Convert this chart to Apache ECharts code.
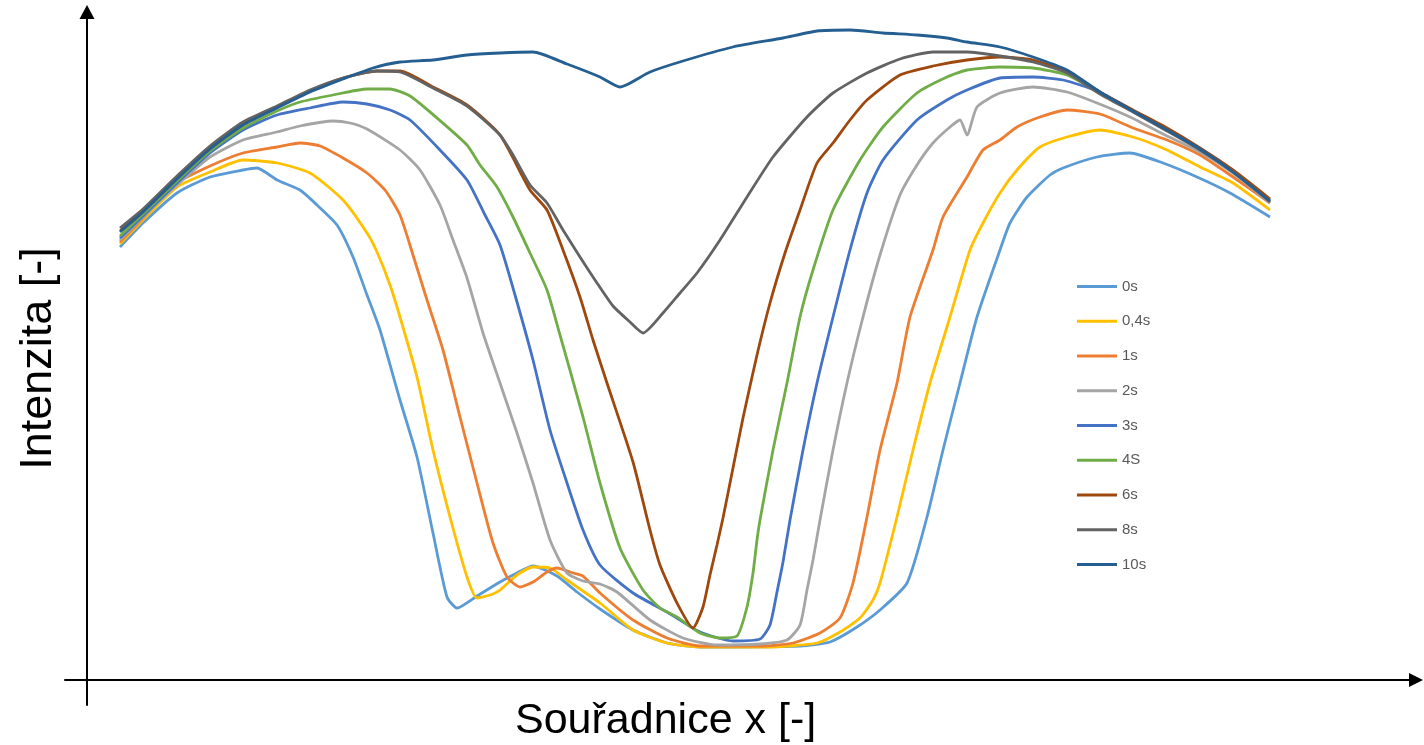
<!DOCTYPE html>
<html>
<head>
<meta charset="utf-8">
<script src="https://cdn.jsdelivr.net/npm/echarts@6/dist/echarts.min.js"></script>
<style>
html,body{margin:0;padding:0;background:#fff;}
#chart{width:1424px;height:745px;}
</style>
</head>
<body>
<div id="chart"></div>
<script>
// Series names (legend order)
const seriesNames = ['0s', '0,4s', '1s', '2s', '3s', '4S', '6s', '8s', '10s'];
const seriesColors = ['#5B9BD5', '#FFC000', '#ED7D31', '#A5A5A5', '#4472C4', '#70AD47', '#9E480E', '#636363', '#255E91'];

// [x, intensity] pairs, arbitrary units
const s0s = [[33,433],[56,457],[90,487],[123,503],[156,510],[170,512],[190,500],[213,490],[230,475],[250,455],[266,423],[280,385],[293,350],[313,280],[330,223],[346,147],[360,83],[370,72],[390,84],[413,98],[430,107],[446,114],[470,104],[490,88],[513,71],[546,50],[580,37],[613,33],[713,34],[743,38],[770,53],[793,70],[820,97],[840,163],[856,230],[873,297],[890,363],[913,430],[923,457],[940,483],[963,505],[976,512],[1010,523],[1043,527],[1076,517],[1110,503],[1143,487],[1183,463]];
const s04s = [[33,436],[56,460],[90,493],[123,508],[156,520],[190,517],[223,507],[256,480],[280,447],[290,428],[303,395],[313,363],[330,303],[346,230],[363,163],[380,103],[390,82],[403,85],[413,90],[430,105],[446,113],[463,112],[480,100],[513,77],[546,50],[580,37],[613,33],[680,33],[730,37],[753,48],[773,62],[786,80],[793,97],[810,163],[826,230],[843,297],[863,363],[883,430],[896,457],[913,487],[930,510],[953,533],[980,543],[1013,550],[1046,543],[1080,530],[1113,513],[1146,497],[1183,470]];
const s1s = [[33,438],[56,462],[90,497],[123,514],[156,527],[190,533],[213,537],[233,534],[256,522],[280,507],[298,490],[313,465],[326,425],[340,380],[356,330],[373,263],[390,197],[406,137],[420,103],[433,93],[446,98],[460,108],[470,112],[486,107],[496,104],[513,87],[546,60],[580,42],[613,34],[673,34],[706,37],[733,47],[753,62],[766,97],[780,163],[793,230],[810,297],[823,363],[846,430],[856,463],[880,503],[896,530],[913,540],[930,553],[953,563],[980,570],[1013,566],[1046,552],[1080,540],[1113,525],[1146,503],[1183,477]];
const s2s = [[33,440],[56,463],[90,495],[123,523],[156,540],[190,548],[213,554],[246,559],[263,557],[280,551],[313,530],[333,510],[353,475],[366,440],[380,402],[396,347],[413,297],[430,247],[446,197],[463,140],[480,107],[496,99],[513,96],[530,88],[563,60],[596,42],[630,35],[673,36],[700,40],[713,55],[720,90],[726,120],[733,160],[746,230],[760,297],[776,363],[793,425],[813,485],[830,515],[846,537],[863,553],[873,560],[880,545],[890,573],[913,587],[946,593],[980,588],[1010,577],[1043,563],[1076,546],[1113,528],[1146,507],[1183,477]];
const s3s = [[33,442],[56,464],[90,497],[123,527],[156,550],[190,565],[223,572],[256,578],[280,576],[303,570],[323,560],[353,530],[380,500],[398,465],[413,435],[428,385],[446,320],[463,250],[480,197],[496,150],[513,115],[546,87],[580,68],[613,48],[646,39],[673,41],[683,55],[690,88],[696,118],[703,160],[716,230],[730,297],[746,363],[763,430],[780,487],[796,520],[830,560],[860,580],[880,590],[913,602],[946,603],[976,600],[1010,589],[1046,569],[1080,551],[1113,531],[1146,509],[1183,479]];
const s4s = [[33,444],[56,466],[90,499],[123,529],[156,552],[190,569],[213,578],[246,585],[280,591],[303,591],[323,584],[350,562],[380,535],[393,515],[410,493],[426,463],[443,427],[460,390],[473,345],[496,263],[513,197],[533,132],[556,90],[573,72],[590,63],[613,47],[633,42],[650,44],[660,73],[666,107],[670,140],[673,160],[686,230],[700,297],[713,363],[726,410],[746,470],[773,520],[796,553],[830,587],[860,603],[880,610],[913,613],[946,612],[980,605],[1013,587],[1046,569],[1080,551],[1113,531],[1146,509],[1183,480]];
const s6s = [[33,449],[56,469],[90,502],[123,532],[156,556],[190,573],[223,589],[256,602],[290,609],[313,609],[346,593],[380,575],[413,545],[443,490],[460,470],[476,430],[493,383],[506,340],[520,297],[546,218],[563,150],[573,115],[590,77],[606,52],[616,73],[623,105],[630,135],[636,162],[646,212],[656,262],[670,325],[683,377],[698,427],[713,470],[730,517],[746,537],[763,560],[780,580],[813,605],[846,614],[880,620],[913,623],[946,620],[980,608],[1013,588],[1046,570],[1080,552],[1113,532],[1146,510],[1183,481]];
const s8s = [[33,452],[56,471],[90,504],[123,534],[156,558],[190,574],[223,590],[256,602],[290,609],[313,608],[346,592],[380,574],[413,545],[426,525],[443,495],[460,477],[476,450],[493,423],[510,397],[526,374],[543,358],[556,347],[576,367],[593,387],[610,407],[633,440],[660,483],[686,523],[720,563],[746,587],[780,607],[813,621],[846,628],[880,628],[913,624],[946,618],[980,607],[1013,586],[1046,568],[1080,549],[1113,530],[1146,508],[1183,478]];
const s10s = [[33,448],[56,468],[90,501],[123,531],[156,555],[190,572],[223,588],[256,601],[286,612],[313,618],[346,620],[380,625],[413,627],[446,628],[480,616],[513,603],[533,593],[563,608],[596,619],[646,633],[696,642],[730,649],[763,650],[796,647],[830,645],[860,642],[880,638],[913,633],[946,623],[980,610],[1013,588],[1046,569],[1080,550],[1113,531],[1146,508],[1183,479]];

const seriesData = [s0s, s04s, s1s, s2s, s3s, s4s, s6s, s8s, s10s];

const chart = echarts.init(document.getElementById('chart'), null, {renderer: 'canvas'});

const axisLineStyle = {color: '#000', width: 2};

const option = {
  animation: false,
  backgroundColor: '#fff',
  title: {
    text: 'Souřadnice x [-]',
    left: 515,
    top: 700,
    padding: 0,
    textStyle: {fontFamily: 'Liberation Sans', fontSize: 43, fontWeight: 'normal', color: '#000'}
  },
  legend: {
    orient: 'vertical',
    left: 1077,
    top: 279,
    icon: 'rect',
    itemWidth: 40,
    itemHeight: 3,
    itemGap: 19.75,
    padding: 0,
    data: seriesNames,
    textStyle: {fontFamily: 'Liberation Sans', fontSize: 15, color: '#595959', lineHeight: 14, height: 14}
  },
  grid: {left: 65, right: 8, top: 12, bottom: 40, containLabel: false, outerBoundsMode: 'none'},
  xAxis: {
    type: 'value',
    min: -22,
    max: 1329,
    axisLine: {show: true, onZero: true, lineStyle: axisLineStyle, symbol: ['none', 'triangle'], symbolSize: [14, 14]},
    axisTick: {show: false},
    axisLabel: {show: false},
    splitLine: {show: false}
  },
  yAxis: {
    type: 'value',
    min: -25,
    max: 668,
    name: 'Intenzita [-]',
    nameLocation: 'middle',
    nameRotate: 90,
    nameGap: 4,
    nameTextStyle: {fontFamily: 'Liberation Sans', fontSize: 45, color: '#000'},
    axisLine: {show: true, onZero: true, lineStyle: axisLineStyle, symbol: ['none', 'triangle'], symbolSize: [15, 14]},
    axisTick: {show: false},
    axisLabel: {show: false},
    splitLine: {show: false}
  },
  series: seriesNames.map((name, i) => ({
    name: name,
    type: 'line',
    data: seriesData[i],
    showSymbol: false,
    symbol: 'none',
    smooth: 0.2,
    color: seriesColors[i],
    lineStyle: {width: 2.8, color: seriesColors[i]}
  }))
};
chart.setOption(option);
</script>
</body>
</html>
